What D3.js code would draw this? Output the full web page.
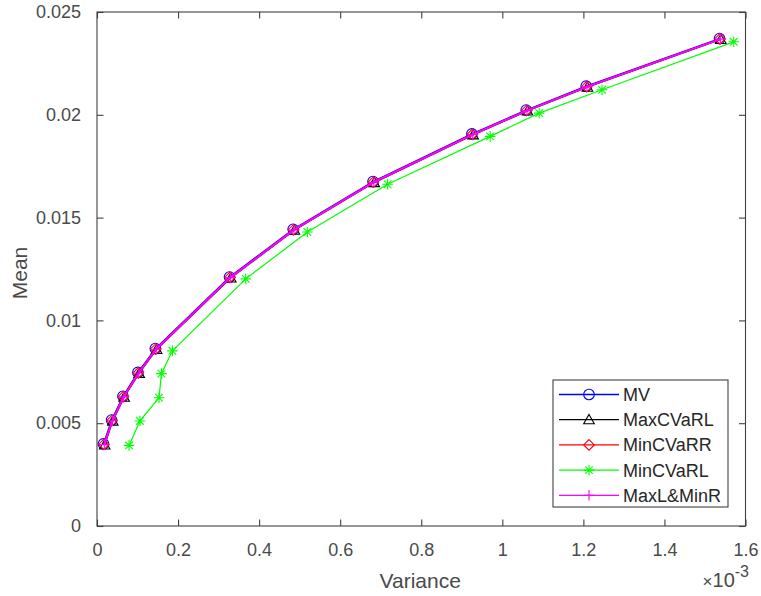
<!DOCTYPE html>
<html>
<head>
<meta charset="utf-8">
<script src="https://cdn.jsdelivr.net/npm/d3@7"></script>
<style>
  html, body { margin: 0; padding: 0; background: #fff; }
  svg { display: block; }
  text { font-family: "Liberation Sans", Arial, Helvetica, sans-serif; }
</style>
</head>
<body>
<svg id="chart" width="761" height="596"></svg>
<script>
// Efficient frontiers: variance (x 1e-3) versus mean, one series per model
const seriesNames = ["MV", "MaxCVaRL", "MinCVaRR", "MinCVaRL", "MaxL&MinR"];
const seriesColors = ["#0000ff", "#000000", "#ff0000", "#00ff00", "#ff00ff"];
const seriesMarkers = ["circle", "triangle", "diamond", "star", "plus"];
const seriesWidths = [1.3, 1.1, 1.1, 1.2, 2.0];

// variance values are in units of 1e-3
const varMV        = [0.016, 0.036, 0.064, 0.101, 0.144, 0.327, 0.484, 0.681, 0.925, 1.059, 1.207, 1.536];
const varMaxCVaRL  = [0.019, 0.039, 0.067, 0.104, 0.147, 0.330, 0.487, 0.684, 0.928, 1.062, 1.210, 1.539];
const varMinCVaRR  = [0.017, 0.037, 0.065, 0.102, 0.145, 0.328, 0.485, 0.682, 0.926, 1.060, 1.208, 1.537];
const varMinCVaRL  = [0.079, 0.106, 0.153, 0.159, 0.186, 0.367, 0.519, 0.717, 0.970, 1.091, 1.246, 1.571];
const varMaxLMinR  = [0.018, 0.038, 0.066, 0.103, 0.146, 0.329, 0.486, 0.683, 0.927, 1.061, 1.209, 1.538];

const meanMV       = [0.00399, 0.00515, 0.00631, 0.00747, 0.00863, 0.01211, 0.01443, 0.01675, 0.01907, 0.02023, 0.02139, 0.02371];
const meanMaxCVaRL = [0.00394, 0.00510, 0.00626, 0.00742, 0.00858, 0.01206, 0.01438, 0.01670, 0.01902, 0.02018, 0.02134, 0.02366];
const meanMinCVaRR = [0.00397, 0.00513, 0.00629, 0.00745, 0.00861, 0.01209, 0.01441, 0.01673, 0.01905, 0.02021, 0.02137, 0.02369];
const meanMinCVaRL = [0.00392, 0.00511, 0.00624, 0.00741, 0.00852, 0.01202, 0.01430, 0.01662, 0.01895, 0.02008, 0.02122, 0.02355];
const meanMaxLMinR = [0.00396, 0.00512, 0.00628, 0.00744, 0.00860, 0.01208, 0.01440, 0.01672, 0.01904, 0.02020, 0.02136, 0.02368];

const xTicks = [0, 0.2, 0.4, 0.6, 0.8, 1, 1.2, 1.4, 1.6];
const yTicks = [0, 0.005, 0.01, 0.015, 0.02, 0.025];
const xTickLabels = ["0", "0.2", "0.4", "0.6", "0.8", "1", "1.2", "1.4", "1.6"];
const yTickLabels = ["0", "0.005", "0.01", "0.015", "0.02", "0.025"];

const allVars = [varMV, varMaxCVaRL, varMinCVaRR, varMinCVaRL, varMaxLMinR];
const allMeans = [meanMV, meanMaxCVaRL, meanMinCVaRR, meanMinCVaRL, meanMaxLMinR];
const series = seriesNames.map((name, i) => ({
  name, color: seriesColors[i], marker: seriesMarkers[i], width: seriesWidths[i],
  points: allVars[i].map((v, j) => ({ x: v, y: allMeans[i][j] }))
}));

const svg = d3.select("#chart");
const plotLeft = 97, plotRight = 745.5, plotTop = 12, plotBottom = 526;
const axisColor = "#404040";
const textColor = "#4a4a4a";

const x = d3.scaleLinear().domain([0, 1.6]).range([plotLeft, plotRight]);
const y = d3.scaleLinear().domain([0, 0.025]).range([plotBottom, plotTop]);

// box frame
svg.append("rect")
  .attr("x", plotLeft).attr("y", plotTop)
  .attr("width", plotRight - plotLeft).attr("height", plotBottom - plotTop)
  .attr("fill", "none").attr("stroke", axisColor).attr("stroke-width", 1.1);

const tickLen = 6.5;
const tickFont = 18;

// bottom axis (ticks inside) + top mirror ticks
const xAxis = d3.axisBottom(x).tickValues(xTicks)
  .tickFormat((d, i) => xTickLabels[i]).tickSizeInner(-tickLen).tickSizeOuter(0).tickPadding(17);
const gx = svg.append("g").attr("transform", `translate(0,${plotBottom})`).call(xAxis);
gx.select(".domain").remove();
gx.selectAll("line").attr("stroke", axisColor).attr("stroke-width", 1.1);
gx.selectAll("text").attr("fill", textColor).style("font-size", tickFont + "px")
  .attr("font-family", "Liberation Sans, Arial, sans-serif");

const xTopAxis = d3.axisTop(x).tickValues(xTicks).tickFormat("").tickSizeInner(-tickLen).tickSizeOuter(0);
const gxt = svg.append("g").attr("transform", `translate(0,${plotTop})`).call(xTopAxis);
gxt.select(".domain").remove();
gxt.selectAll("line").attr("stroke", axisColor).attr("stroke-width", 1.1);

// left axis + right mirror ticks
const yAxis = d3.axisLeft(y).tickValues(yTicks)
  .tickFormat((d, i) => yTickLabels[i]).tickSizeInner(-tickLen).tickSizeOuter(0).tickPadding(16);
const gy = svg.append("g").attr("transform", `translate(${plotLeft},0)`).call(yAxis);
gy.select(".domain").remove();
gy.selectAll("line").attr("stroke", axisColor).attr("stroke-width", 1.1);
gy.selectAll("text").attr("fill", textColor).style("font-size", tickFont + "px")
  .attr("font-family", "Liberation Sans, Arial, sans-serif");

const yRightAxis = d3.axisRight(y).tickValues(yTicks).tickFormat("").tickSizeInner(-tickLen).tickSizeOuter(0);
const gyr = svg.append("g").attr("transform", `translate(${plotRight},0)`).call(yRightAxis);
gyr.select(".domain").remove();
gyr.selectAll("line").attr("stroke", axisColor).attr("stroke-width", 1.1);

// axis labels
svg.append("text")
  .attr("x", (plotLeft + plotRight) / 2 - 1).attr("y", 588)
  .attr("text-anchor", "middle").attr("fill", textColor)
  .style("font-size", "21px").text("Variance");

svg.append("text")
  .attr("transform", `translate(27,${(plotTop + plotBottom) / 2 + 4}) rotate(-90)`)
  .attr("text-anchor", "middle").attr("fill", textColor)
  .style("font-size", "21px").text("Mean");

// exponent multiplier
const expo = svg.append("text")
  .attr("x", 749).attr("y", 587)
  .attr("text-anchor", "end").attr("fill", textColor)
  .style("font-size", "20px");
expo.append("tspan").style("font-size", "17px").text("\u00d7");
expo.append("tspan").text("10");
expo.append("tspan").attr("dy", -10).style("font-size", "16px").text("-3");

// marker drawing
const ms = 5.3;
function drawMarker(g, type, color, cx, cy) {
  const s = g.append("g").attr("transform", `translate(${cx},${cy})`)
    .attr("fill", "none").attr("stroke", color).attr("stroke-width", 1.1);
  if (type === "circle") {
    s.append("circle").attr("r", ms);
  } else if (type === "triangle") {
    s.append("path").attr("d", `M0,${-ms} L${ms},${ms * 0.75} L${-ms},${ms * 0.75} Z`);
  } else if (type === "diamond") {
    s.append("path").attr("d", `M0,${-ms} L${ms},0 L0,${ms} L${-ms},0 Z`);
  } else if (type === "star") {
    const d = ms * 0.72;
    s.append("path").attr("d",
      `M0,${-ms} L0,${ms} M${-ms},0 L${ms},0 M${-d},${-d} L${d},${d} M${-d},${d} L${d},${-d}`);
  } else if (type === "plus") {
    s.append("path").attr("d", `M0,${-ms} L0,${ms} M${-ms},0 L${ms},0`);
  }
}

const line = d3.line().x(d => x(d.x)).y(d => y(d.y));
const plot = svg.append("g");
series.forEach(sr => {
  const g = plot.append("g");
  g.append("path").datum(sr.points)
    .attr("d", line).attr("fill", "none")
    .attr("stroke", sr.color).attr("stroke-width", sr.width);
  sr.points.forEach(p => drawMarker(g, sr.marker, sr.color, x(p.x), y(p.y)));
});

// legend
const lg = svg.append("g");
const lgX = 553, lgY = 380, lgW = 175, lgH = 127;
lg.append("rect").attr("x", lgX).attr("y", lgY).attr("width", lgW).attr("height", lgH)
  .attr("fill", "#fff").attr("stroke", axisColor).attr("stroke-width", 1.1);
series.forEach((sr, i) => {
  const ry = 394.5 + i * 25.2;
  lg.append("line").attr("x1", 559).attr("x2", 619).attr("y1", ry).attr("y2", ry)
    .attr("stroke", sr.color).attr("stroke-width", 1.3);
  drawMarker(lg, sr.marker, sr.color, 589, ry);
  lg.append("text").attr("x", 623).attr("y", ry + 6.5)
    .attr("fill", "#262626").style("font-size", "18px").text(sr.name);
});
</script>
</body>
</html>
